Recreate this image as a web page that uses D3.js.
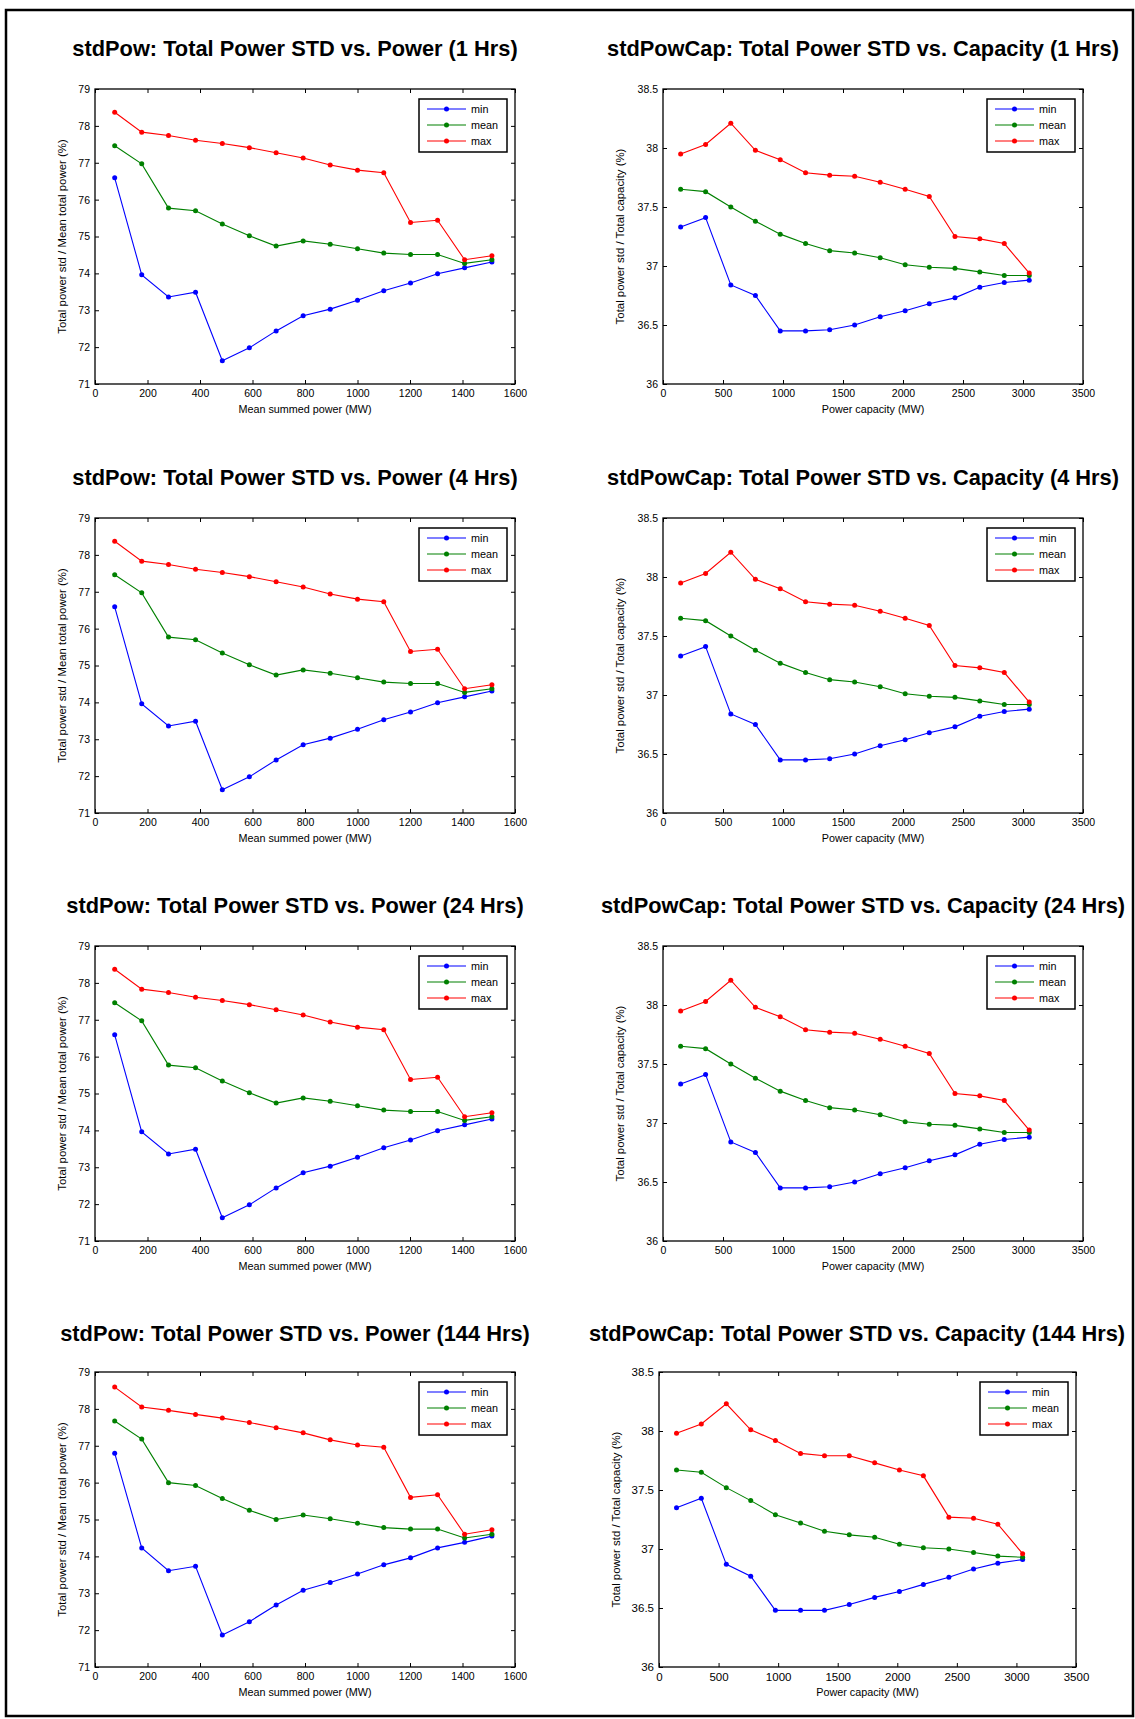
<!DOCTYPE html>
<html>
<head>
<meta charset="utf-8">
<script src="https://cdn.jsdelivr.net/npm/d3@7"></script>
<style>
body { margin: 0; background: #fff; }
svg text { font-family: "Liberation Sans", Arial, sans-serif; fill: #000; }
</style>
</head>
<body>
<svg id="chart" width="1135" height="1719"></svg>
<script>
// x positions (MW)
var powX = [75, 178, 280, 383, 485, 588, 690, 793, 896, 1000, 1100, 1202, 1305, 1408, 1512];
var capX = [147, 355, 565, 770, 977, 1188, 1389, 1597, 1810, 2018, 2219, 2433, 2640, 2844, 3052];

// stdPow, 1 / 4 / 24 Hrs
var powMin  = [76.59, 73.96, 73.36, 73.49, 71.63, 71.98, 72.44, 72.85, 73.03, 73.27, 73.53, 73.74, 73.99, 74.15, 74.31];
var powMean = [77.46, 76.97, 75.77, 75.70, 75.34, 75.02, 74.74, 74.88, 74.79, 74.67, 74.55, 74.51, 74.51, 74.27, 74.37];
var powMax  = [78.37, 77.83, 77.74, 77.61, 77.52, 77.41, 77.27, 77.13, 76.94, 76.80, 76.73, 75.38, 75.44, 74.37, 74.48];

// stdPow, 144 Hrs
var pow144Min  = [76.80, 74.23, 73.61, 73.73, 71.87, 72.23, 72.68, 73.08, 73.29, 73.52, 73.77, 73.96, 74.23, 74.38, 74.55];
var pow144Mean = [77.67, 77.18, 76.00, 75.92, 75.57, 75.25, 75.00, 75.12, 75.02, 74.90, 74.78, 74.74, 74.74, 74.50, 74.60];
var pow144Max  = [78.59, 78.05, 77.96, 77.85, 77.75, 77.63, 77.49, 77.35, 77.16, 77.02, 76.96, 75.60, 75.67, 74.60, 74.72];

// stdPowCap, 1 / 4 / 24 Hrs
var capMin  = [37.33, 37.41, 36.84, 36.75, 36.45, 36.45, 36.46, 36.50, 36.57, 36.62, 36.68, 36.73, 36.82, 36.86, 36.88];
var capMean = [37.65, 37.63, 37.50, 37.38, 37.27, 37.19, 37.13, 37.11, 37.07, 37.01, 36.99, 36.98, 36.95, 36.92, 36.92];
var capMax  = [37.95, 38.03, 38.21, 37.98, 37.90, 37.79, 37.77, 37.76, 37.71, 37.65, 37.59, 37.25, 37.23, 37.19, 36.94];

// stdPowCap, 144 Hrs
var cap144Min  = [37.35, 37.43, 36.87, 36.77, 36.48, 36.48, 36.48, 36.53, 36.59, 36.64, 36.70, 36.76, 36.83, 36.88, 36.91];
var cap144Mean = [37.67, 37.65, 37.52, 37.41, 37.29, 37.22, 37.15, 37.12, 37.10, 37.04, 37.01, 37.00, 36.97, 36.94, 36.93];
var cap144Max  = [37.98, 38.06, 38.23, 38.01, 37.92, 37.81, 37.79, 37.79, 37.73, 37.67, 37.62, 37.27, 37.26, 37.21, 36.96];

var hours = ['1', '4', '24', '144'];
var seriesNames = ['min', 'mean', 'max'];
var seriesColors = ['#0000ff', '#008000', '#ff0000'];

var powXTicks = d3.range(0, 1601, 200);
var powYTicks = d3.range(71, 79.01, 1);
var capXTicks = d3.range(0, 3501, 500);
var capYTicks = [36, 36.5, 37, 37.5, 38, 38.5];

var svg = d3.select('#chart');

// outer frame
svg.append('rect')
  .attr('x', 6).attr('y', 10)
  .attr('width', 1127).attr('height', 1706)
  .attr('fill', 'none')
  .attr('stroke', '#000')
  .attr('stroke-width', 2.5);

function drawPanel(p) {
  var x = d3.scaleLinear().domain(p.xDomain).range([p.left, p.right]);
  var y = d3.scaleLinear().domain(p.yDomain).range([p.bottom, p.top]);
  var g = svg.append('g');

  g.append('text')
    .attr('x', p.titleX)
    .attr('y', p.titleY)
    .attr('dy', '0.35em')
    .attr('text-anchor', 'middle')
    .style('font-size', '21.8px')
    .style('font-weight', 'bold')
    .text(p.title);

  var xAxis = d3.axisBottom(x).tickValues(p.xTicks).tickSize(-4).tickSizeOuter(0).tickPadding(6)
    .tickFormat(d3.format('d'));
  var xg = g.append('g').attr('transform', 'translate(0,' + p.bottom + ')').call(xAxis);
  var yAxis = d3.axisLeft(y).tickValues(p.yTicks).tickSize(-4).tickSizeOuter(0).tickPadding(5)
    .tickFormat(function(d) { return String(d); });
  var yg = g.append('g').attr('transform', 'translate(' + p.left + ',0)').call(yAxis);
  var tg = g.append('g').attr('transform', 'translate(0,' + p.top + ')')
    .call(d3.axisTop(x).tickValues(p.xTicks).tickSize(-4).tickSizeOuter(0).tickFormat(''));
  var rg = g.append('g').attr('transform', 'translate(' + p.right + ',0)')
    .call(d3.axisRight(y).tickValues(p.yTicks).tickSize(-4).tickSizeOuter(0).tickFormat(''));

  [xg, yg, tg, rg].forEach(function(a) {
    a.select('.domain').remove();
    a.selectAll('line').attr('stroke', '#000').attr('stroke-width', 1);
    a.selectAll('text').style('font-size', p.tickFont).attr('font-family', null).attr('fill', '#000');
  });

  g.append('rect')
    .attr('x', p.left).attr('y', p.top)
    .attr('width', p.right - p.left).attr('height', p.bottom - p.top)
    .attr('fill', 'none')
    .attr('stroke', '#000')
    .attr('stroke-width', 1.3);

  g.append('text')
    .attr('x', (p.left + p.right) / 2)
    .attr('y', p.bottom + 25)
    .attr('dy', '0.35em')
    .attr('text-anchor', 'middle')
    .style('font-size', '10.8px')
    .text(p.xLabel);

  g.append('text')
    .attr('transform', 'translate(' + (p.left - p.yLabelOff) + ',' + ((p.top + p.bottom) / 2) + ') rotate(-90)')
    .attr('dy', '0.35em')
    .attr('text-anchor', 'middle')
    .style('font-size', '11.4px')
    .text(p.yLabel);

  var line = d3.line()
    .x(function(d) { return x(d[0]); })
    .y(function(d) { return y(d[1]); });

  p.series.forEach(function(vals, i) {
    var pts = p.xs.map(function(v, j) { return [v, vals[j]]; });
    g.append('path')
      .datum(pts)
      .attr('d', line)
      .attr('fill', 'none')
      .attr('stroke', seriesColors[i])
      .attr('stroke-width', 1.1);
    g.selectAll(null)
      .data(pts)
      .enter().append('circle')
      .attr('cx', function(d) { return x(d[0]); })
      .attr('cy', function(d) { return y(d[1]); })
      .attr('r', 2.5)
      .attr('fill', seriesColors[i]);
  });

  // legend
  var lg = g.append('g').attr('transform', 'translate(' + p.legX + ',' + (p.top + 10) + ')');
  lg.append('rect')
    .attr('width', 88).attr('height', 53)
    .attr('fill', '#fff')
    .attr('stroke', '#000')
    .attr('stroke-width', 1.5);
  seriesNames.forEach(function(name, i) {
    var ly = 10 + i * 16;
    lg.append('line')
      .attr('x1', 8).attr('x2', 47)
      .attr('y1', ly).attr('y2', ly)
      .attr('stroke', seriesColors[i])
      .attr('stroke-width', 1.1);
    lg.append('circle')
      .attr('cx', 27.5).attr('cy', ly).attr('r', 2.5)
      .attr('fill', seriesColors[i]);
    lg.append('text')
      .attr('x', 52).attr('y', ly)
      .attr('dy', '0.35em')
      .style('font-size', '10.8px')
      .text(name);
  });
}

var rowTop = [89, 518, 946, 1372];
var rowBottom = [384, 813, 1241, 1667];
var rowTitle = [48, 477, 905, 1333];

hours.forEach(function(h, r) {
  var last = r === 3;
  drawPanel({
    title: 'stdPow: Total Power STD vs. Power (' + h + ' Hrs)',
    titleX: 295, titleY: rowTitle[r],
    left: 95, right: 515, top: rowTop[r], bottom: rowBottom[r],
    xDomain: [0, 1600], yDomain: [71, 79],
    xTicks: powXTicks, yTicks: powYTicks,
    tickFont: '10.5px',
    xLabel: 'Mean summed power (MW)',
    yLabel: 'Total power std / Mean total power (%)',
    yLabelOff: 33,
    xs: powX,
    series: last ? [pow144Min, pow144Mean, pow144Max] : [powMin, powMean, powMax],
    legX: 419
  });
  drawPanel({
    title: 'stdPowCap: Total Power STD vs. Capacity (' + h + ' Hrs)',
    titleX: last ? 857 : 863, titleY: rowTitle[r],
    left: last ? 659 : 663, right: last ? 1076 : 1083, top: rowTop[r], bottom: rowBottom[r],
    xDomain: [0, 3500], yDomain: [36, 38.5],
    xTicks: capXTicks, yTicks: capYTicks,
    tickFont: last ? '11.5px' : '10.5px',
    xLabel: 'Power capacity (MW)',
    yLabel: 'Total power std / Total capacity (%)',
    yLabelOff: 43,
    xs: capX,
    series: last ? [cap144Min, cap144Mean, cap144Max] : [capMin, capMean, capMax],
    legX: last ? 980 : 987
  });
});
</script>
</body>
</html>
